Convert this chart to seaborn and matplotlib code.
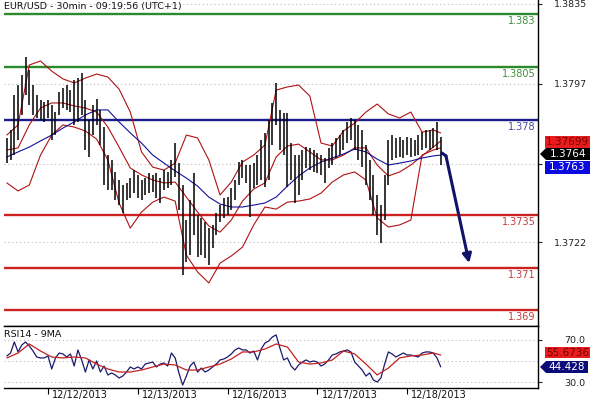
import matplotlib
matplotlib.use("Agg")
import matplotlib.pyplot as plt
import seaborn as sns
from matplotlib.patches import Polygon
from matplotlib.transforms import blended_transform_factory

sns.set_theme(style="white")
plt.rcParams['font.family'] = ['DejaVu Sans']

# ---------------- data ----------------
title = "EUR/USD - 30min - 09:19:56 (UTC+1)"
bar_hours = list(range(13, 130))  # trading hours counted from 12/11 00:00
highs = [1.37714, 1.37752, 1.37918, 1.37965, 1.38013, 1.38098, 1.38036, 1.37965, 1.37918, 1.37894,
         1.37885, 1.37894, 1.37870, 1.37837, 1.37932, 1.37951, 1.37965, 1.37942, 1.37989, 1.37998,
         1.38022, 1.37894, 1.37799, 1.37870, 1.37899, 1.37847, 1.37766, 1.37633, 1.37610, 1.37553,
         1.37515, 1.37491, 1.37501, 1.37524, 1.37562, 1.37539, 1.37515, 1.37524, 1.37548, 1.37539,
         1.37548, 1.37524, 1.37562, 1.37553, 1.37610, 1.37690, 1.37596, 1.37491, 1.37325, 1.37420,
         1.37548, 1.37349, 1.37335, 1.37316, 1.37287, 1.37302, 1.37359, 1.37396, 1.37430, 1.37434,
         1.37477, 1.37515, 1.37600, 1.37610, 1.37586, 1.37586, 1.37596, 1.37633, 1.37705, 1.37738,
         1.37799, 1.37880, 1.37975, 1.37847, 1.37833, 1.37833, 1.37690, 1.37633, 1.37633, 1.37657,
         1.37671, 1.37667, 1.37657, 1.37643, 1.37633, 1.37619, 1.37667, 1.37690, 1.37714, 1.37728,
         1.37752, 1.37790, 1.37809, 1.37799, 1.37776, 1.37752, 1.37681, 1.37610, 1.37539, 1.37444,
         1.37396, 1.37539, 1.37705, 1.37728, 1.37714, 1.37719, 1.37705, 1.37719, 1.37714, 1.37705,
         1.37728, 1.37742, 1.37752, 1.37752, 1.37761, 1.37790, 1.37719]
lows = [1.37596, 1.37610, 1.37633, 1.37705, 1.37823, 1.37918, 1.37870, 1.37823, 1.37809, 1.37799,
        1.37790, 1.37809, 1.37705, 1.37728, 1.37823, 1.37856, 1.37847, 1.37837, 1.37776, 1.37790,
        1.37823, 1.37657, 1.37624, 1.37728, 1.37776, 1.37681, 1.37491, 1.37468, 1.37468, 1.37420,
        1.37396, 1.37359, 1.37420, 1.37430, 1.37453, 1.37430, 1.37420, 1.37444, 1.37453, 1.37458,
        1.37430, 1.37406, 1.37468, 1.37477, 1.37491, 1.37529, 1.37373, 1.37065, 1.37126, 1.37159,
        1.37254, 1.37150, 1.37159, 1.37145, 1.37112, 1.37193, 1.37254, 1.37316, 1.37335, 1.37349,
        1.37373, 1.37420, 1.37491, 1.37524, 1.37501, 1.37340, 1.37477, 1.37491, 1.37515, 1.37482,
        1.37515, 1.37681, 1.37776, 1.37657, 1.37633, 1.37482, 1.37515, 1.37406, 1.37444, 1.37515,
        1.37572, 1.37562, 1.37553, 1.37548, 1.37539, 1.37501, 1.37572, 1.37586, 1.37619, 1.37633,
        1.37657, 1.37690, 1.37705, 1.37657, 1.37610, 1.37577, 1.37491, 1.37420, 1.37349, 1.37254,
        1.37216, 1.37325, 1.37491, 1.37610, 1.37619, 1.37624, 1.37619, 1.37633, 1.37624, 1.37629,
        1.37633, 1.37657, 1.37667, 1.37657, 1.37667, 1.37657, 1.37586]

band_hours = [13, 16, 19, 22, 25, 28, 31, 34, 37, 40, 43, 46, 49, 52, 55, 58, 61, 64, 67, 70,
              73, 76, 79, 82, 85, 88, 91, 94, 97, 100, 103, 106, 109, 112, 115, 118, 121, 124, 127, 129]
bb_upper = [1.37728, 1.37776, 1.38060, 1.38079, 1.38031, 1.37994, 1.37975, 1.37998, 1.38017, 1.38003,
            1.37946, 1.37837, 1.37648, 1.37576, 1.37562, 1.37595, 1.37728, 1.37714, 1.37610, 1.37444,
            1.37505, 1.37600, 1.37633, 1.37681, 1.37941, 1.37956, 1.37965, 1.37913, 1.37690, 1.37676,
            1.37747, 1.37785, 1.37837, 1.37875, 1.37828, 1.37809, 1.37837, 1.37742, 1.37752, 1.37738]
bb_mid = [1.37657, 1.37667, 1.37776, 1.37856, 1.37880, 1.37880, 1.37866, 1.37856, 1.37837, 1.37766,
          1.37671, 1.37572, 1.37539, 1.37515, 1.37501, 1.37505, 1.37434, 1.37363, 1.37297, 1.37268,
          1.37325, 1.37415, 1.37472, 1.37501, 1.37624, 1.37676, 1.37685, 1.37648, 1.37610, 1.37610,
          1.37633, 1.37667, 1.37667, 1.37586, 1.37534, 1.37553, 1.37586, 1.37629, 1.37671, 1.37700]
bb_lower = [1.37501, 1.37463, 1.37491, 1.37633, 1.37728, 1.37776, 1.37766, 1.37747, 1.37709, 1.37610,
            1.37406, 1.37287, 1.37363, 1.37410, 1.37434, 1.37415, 1.37159, 1.37079, 1.37027, 1.37121,
            1.37155, 1.37197, 1.37302, 1.37387, 1.37377, 1.37410, 1.37415, 1.37425, 1.37453, 1.37505,
            1.37539, 1.37553, 1.37515, 1.37335, 1.37292, 1.37302, 1.37325, 1.37633, 1.37657, 1.37667]
ma_blue = [1.37624, 1.37648, 1.37671, 1.37700, 1.37728, 1.37761, 1.37790, 1.37823, 1.37847, 1.37847,
           1.37790, 1.37738, 1.37690, 1.37633, 1.37595, 1.37558, 1.37524, 1.37486, 1.37434, 1.37401,
           1.37387, 1.37387, 1.37396, 1.37406, 1.37434, 1.37486, 1.37534, 1.37572, 1.37600, 1.37619,
           1.37638, 1.37662, 1.37648, 1.37614, 1.37586, 1.37595, 1.37605, 1.37619, 1.37629, 1.37633]

rsi = [54.8, 57.6, 68.1, 58.6, 65.2, 68.1, 64.3, 59.5, 53.8, 52.9,
       52.9, 54.8, 42.4, 52.9, 57.6, 56.7, 53.8, 56.7, 45.2, 60.5,
       51.0, 39.5, 51.0, 42.4, 50.0, 39.5, 45.2, 36.7, 38.6, 36.7,
       33.8, 35.7, 39.5, 44.3, 42.4, 44.3, 42.4, 47.1, 48.1, 49.0,
       44.3, 47.1, 48.1, 45.2, 57.6, 52.9, 38.6, 27.1, 35.7, 45.2,
       49.0, 39.5, 43.3, 39.5, 41.4, 44.3, 47.1, 51.0, 51.9, 53.8,
       56.7, 60.5, 62.4, 60.5, 60.5, 57.6, 59.5, 51.0, 61.4, 67.1,
       69.0, 72.9, 74.8, 62.4, 51.0, 52.9, 45.2, 41.4, 46.2, 49.0,
       51.0, 49.0, 50.0, 49.0, 45.2, 47.1, 51.0, 55.7, 56.7, 58.6,
       59.5, 60.5, 58.6, 49.0, 45.2, 41.4, 35.7, 38.6, 31.9, 30.0,
       33.8, 47.1, 58.6, 56.7, 53.8, 55.7, 57.6, 55.7, 55.7, 54.8,
       53.8, 57.6, 58.6, 58.6, 57.6, 52.9, 44.4]
rsi_ma = [52.9, 57.6, 66.2, 59.5, 53.8, 52.9, 53.8, 52.9, 47.1, 42.4,
          39.5, 39.5, 41.4, 44.3, 47.1, 46.2, 41.4, 41.4, 44.3, 47.1,
          51.9, 58.6, 58.6, 61.4, 66.2, 63.3, 49.0, 47.1, 48.1, 51.0,
          59.5, 56.7, 47.1, 36.7, 43.3, 52.9, 54.8, 55.7, 57.6, 55.7]

date_ticks = [24, 48, 72, 96, 120]
date_labels = ["12/12/2013", "12/13/2013", "12/16/2013", "12/17/2013", "12/18/2013"]
green_levels = [1.383, 1.3805]
blue_levels = [1.378]
red_levels = [1.3735, 1.371, 1.369]
price_ticks = [1.3835, 1.3797, 1.3759, 1.3722]
rsi_ticks = [70.0, 30.0]
rsi_grid = [70, 50, 30]
last_close = "1.3764"
mid_last = "1.37699"
ma_last = "1.3763"
rsi_ma_last = "55.6736"
rsi_last = "44.428"
arrow_start = (130.4, 1.37629)
arrow_end = (136.6, 1.37121)

# ---------------- layout ----------------
W, H = 590, 400
fig = plt.figure(figsize=(W / 100, H / 100), dpi=100)
fig.patch.set_facecolor("white")
ax = fig.add_axes([4 / W, 74 / H, 534 / W, 326 / H])
rax = fig.add_axes([4 / W, 12 / H, 534 / W, 62 / H], sharex=ax)
for a in (ax, rax):
    a.set_facecolor("white")
ax.set_xlim(12.24, 155.0)
ax.set_ylim(1.36823, 1.38368)
rax.set_ylim(24.3, 83.3)

FS = 6.5
grid_kw = dict(color="#b8b8b8", linestyle=(0, (1, 2.5)), lw=0.8, zorder=1)
for v in price_ticks:
    ax.axhline(v, **grid_kw)
for v in rsi_grid:
    rax.axhline(v, **grid_kw)

# level lines and labels
lvl = [(green_levels, "#2b8a2b", "#3d8f3d"), (blue_levels, "#1b1b8a", "#4848a0"),
       (red_levels, "#cc2222", "#c43a3a")]
for levels, lc, tc in lvl:
    for v in levels:
        ax.axhline(v, color=lc, lw=1.7, zorder=2)
        ax.annotate(str(v), xy=(1, v), xycoords=("axes fraction", "data"),
                    xytext=(-1.5, -1.5), textcoords="offset points",
                    ha="right", va="top", fontsize=FS + 0.5, color=tc, zorder=6)

# bands and moving average
sns.lineplot(x=band_hours, y=bb_upper, ax=ax, color="#b01212", lw=0.8, zorder=3)
sns.lineplot(x=band_hours, y=bb_mid, ax=ax, color="#b01212", lw=0.8, zorder=3)
sns.lineplot(x=band_hours, y=bb_lower, ax=ax, color="#b01212", lw=0.8, zorder=3)
sns.lineplot(x=band_hours, y=ma_blue, ax=ax, color="#12129a", lw=0.8, zorder=3)

# price bars (high-low)
ax.vlines(bar_hours, lows, highs, color="black", lw=1.1, zorder=4)

# forecast arrow
ax.plot([129.3, arrow_start[0]], [1.37643, arrow_start[1]], color="#12126a", lw=2.2,
        solid_capstyle="round", zorder=5)
ax.annotate("", xy=arrow_end, xytext=arrow_start,
            arrowprops=dict(arrowstyle="-|>", color="#12126a", lw=2.2,
                            mutation_scale=13, shrinkA=0, shrinkB=0), zorder=5)

# title
ax.text(0.0, 1 - 7 / 326, title, transform=ax.transAxes, ha="left", va="center",
        fontsize=FS + 0.3, color="#111111")

# RSI panel
sns.lineplot(x=bar_hours, y=rsi, ax=rax, color="#1a1a6e", lw=0.9, zorder=3)
sns.lineplot(x=band_hours, y=rsi_ma, ax=rax, color="#c42020", lw=0.9, zorder=3)
rax.text(0.0, 0.87, "RSI14 - 9MA", transform=rax.transAxes, ha="left", va="center",
         fontsize=FS + 0.3, color="#111111")

# axes styling
for a in (ax, rax):
    a.yaxis.tick_right()
    a.set_xlabel("")
    a.set_ylabel("")
    a.grid(False)
    for s in a.spines.values():
        s.set_color("black")
        s.set_linewidth(1.0)
    a.spines["left"].set_visible(False)
ax.spines["top"].set_visible(False)

ax.set_yticks(price_ticks)
ax.set_yticklabels([f"{v:.4f}" for v in price_ticks])
ax.tick_params(axis="y", right=True, left=False, labelright=True, labelleft=False,
               direction="out", length=3, width=0.8, pad=8.5, labelsize=FS + 0.3,
               colors="#222222")
ax.tick_params(axis="x", bottom=False, labelbottom=False)

rax.set_yticks(rsi_ticks)
rax.set_yticklabels([f"{v:.1f}" for v in rsi_ticks])
rax.tick_params(axis="y", right=True, left=False, labelright=True, labelleft=False,
                direction="out", length=3, width=0.8, pad=16, labelsize=FS + 0.3,
                colors="#222222")
rax.set_xticks(date_ticks)
rax.set_xticklabels([])
rax.tick_params(axis="x", bottom=True, direction="out", length=4, width=0.8, colors="black")
tr = blended_transform_factory(rax.transData, rax.transAxes)
for t, lab in zip(date_ticks, date_labels):
    rax.annotate(lab, xy=(t, 0), xycoords=tr, xytext=(3, -1.5), textcoords="offset points",
                 ha="left", va="top", fontsize=FS + 0.5, color="#111111", annotation_clip=False)


# value tags on the right
def fx(x):
    return x / W


def fy(y):
    return 1 - y / H


def tag(x0, y0, x1, y1, fc, text, tc, arrow=False):
    if arrow:
        pts = [(x0 - 6, (y0 + y1) / 2), (x0, y0), (x1, y0), (x1, y1), (x0, y1)]
    else:
        pts = [(x0, y0), (x1, y0), (x1, y1), (x0, y1)]
    poly = Polygon([(fx(a), fy(b)) for a, b in pts], closed=True, transform=fig.transFigure,
                   fc=fc, ec="none", zorder=10)
    fig.add_artist(poly)
    fig.text(fx((x0 + x1) / 2), fy((y0 + y1) / 2), text, ha="center", va="center",
             fontsize=FS + 1, color=tc, zorder=11)


tag(545, 136, 590, 148, "#e81c1c", mid_last, "#7a0000")
tag(546, 148, 590, 160, "#000000", last_close, "white", arrow=True)
tag(545, 161, 590, 174, "#0a0ae0", ma_last, "white")
tag(545, 347, 590, 358, "#e81c1c", rsi_ma_last, "#7a0000")
tag(546, 361, 588, 373, "#0c0c78", rsi_last, "white", arrow=True)

fig.savefig("out.png", dpi=100)
